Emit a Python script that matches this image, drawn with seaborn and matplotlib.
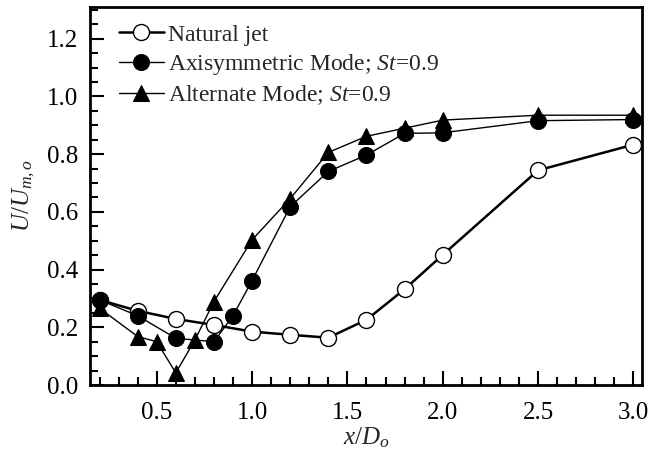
import matplotlib
matplotlib.use("Agg")
import matplotlib.pyplot as plt
import seaborn as sns
import pandas as pd
from matplotlib.ticker import MultipleLocator, FormatStrFormatter

# Data
x_nat = [0.2, 0.4, 0.6, 0.8, 1.0, 1.2, 1.4, 1.6, 1.8, 2.0, 2.5, 3.0]
y_nat = [0.295, 0.257, 0.229, 0.208, 0.185, 0.174, 0.164, 0.226, 0.332, 0.451, 0.744, 0.833]

x_axi = [0.2, 0.4, 0.6, 0.8, 0.9, 1.0, 1.2, 1.4, 1.6, 1.8, 2.0, 2.5, 3.0]
y_axi = [0.295, 0.24, 0.162, 0.15, 0.24, 0.362, 0.618, 0.74, 0.797, 0.872, 0.874, 0.916, 0.92]

x_alt = [0.2, 0.4, 0.5, 0.6, 0.7, 0.8, 1.0, 1.2, 1.4, 1.6, 1.8, 2.0, 2.5, 3.0]
y_alt = [0.266, 0.168, 0.15, 0.042, 0.156, 0.289, 0.503, 0.646, 0.806, 0.862, 0.89, 0.918, 0.935, 0.935]

labels = ["Natural jet", "Axisymmetric Mode; $St$=0.9", "Alternate Mode; $St$=0.9"]

sns.set_style("white")
plt.rcParams['font.family'] = ['Liberation Serif', 'DejaVu Serif']
plt.rcParams['mathtext.fontset'] = 'custom'
plt.rcParams['mathtext.rm'] = 'Liberation Serif'
plt.rcParams['mathtext.it'] = 'Liberation Serif:italic'
plt.rcParams['mathtext.bf'] = 'Liberation Serif:bold'

fig = plt.figure(figsize=(6.48, 4.57), dpi=100)
# axes box: left 90px, right 642px, top 7px, bottom 385px
ax = fig.add_axes([90 / 648, 1 - 385 / 457, 552 / 648, 378 / 457])

df_nat = pd.DataFrame({"x": x_nat, "y": y_nat})
df_axi = pd.DataFrame({"x": x_axi, "y": y_axi})
df_alt = pd.DataFrame({"x": x_alt, "y": y_alt})

sns.lineplot(data=df_nat, x="x", y="y", ax=ax, color="black", lw=1.8,
             marker="o", markersize=11.5, markerfacecolor="white",
             markeredgecolor="black", markeredgewidth=1.0, label=labels[0], zorder=2)
sns.lineplot(data=df_axi, x="x", y="y", ax=ax, color="black", lw=1.0,
             marker="o", markersize=11.5, markerfacecolor="black",
             markeredgecolor="black", label=labels[1], zorder=3)
sns.lineplot(data=df_alt, x="x", y="y", ax=ax, color="black", lw=1.0,
             marker="^", markersize=12, markerfacecolor="black",
             markeredgecolor="black", label=labels[2], zorder=4)

ax.set_xlim(0.15, 3.045)
ax.set_ylim(0.0, 1.31)
ax.xaxis.set_major_locator(MultipleLocator(0.5))
ax.xaxis.set_minor_locator(MultipleLocator(0.1))
ax.yaxis.set_major_locator(MultipleLocator(0.2))
ax.yaxis.set_minor_locator(MultipleLocator(0.05))
ax.xaxis.set_major_formatter(FormatStrFormatter('%.1f'))
ax.yaxis.set_major_formatter(FormatStrFormatter('%.1f'))

ax.tick_params(which='both', direction='in', top=False, right=False,
               bottom=True, left=True, width=1.5, labelsize=18, colors='black')
ax.tick_params(which='major', length=10)
ax.tick_params(which='minor', length=6)
ax.tick_params(axis='x', which='major', pad=12.5)
ax.tick_params(axis='y', which='major', pad=8.5)
for s in ax.spines.values():
    s.set_linewidth(2)
    s.set_color('black')

ax.set_xlabel("$x/D_o$", fontsize=18)
ax.set_ylabel("$U/U_{m,o}$", fontsize=18)
ax.xaxis.set_label_coords(0.5, -0.106)
ax.yaxis.set_label_coords(-0.096, 0.5)

leg = ax.legend(loc='upper left', frameon=False, fontsize=17, handlelength=1.9,
                handletextpad=0.17, borderpad=0.0, borderaxespad=0.0,
                labelspacing=0.27, bbox_to_anchor=(0.0525, 0.955))

fig.savefig("out.png", dpi=100)
